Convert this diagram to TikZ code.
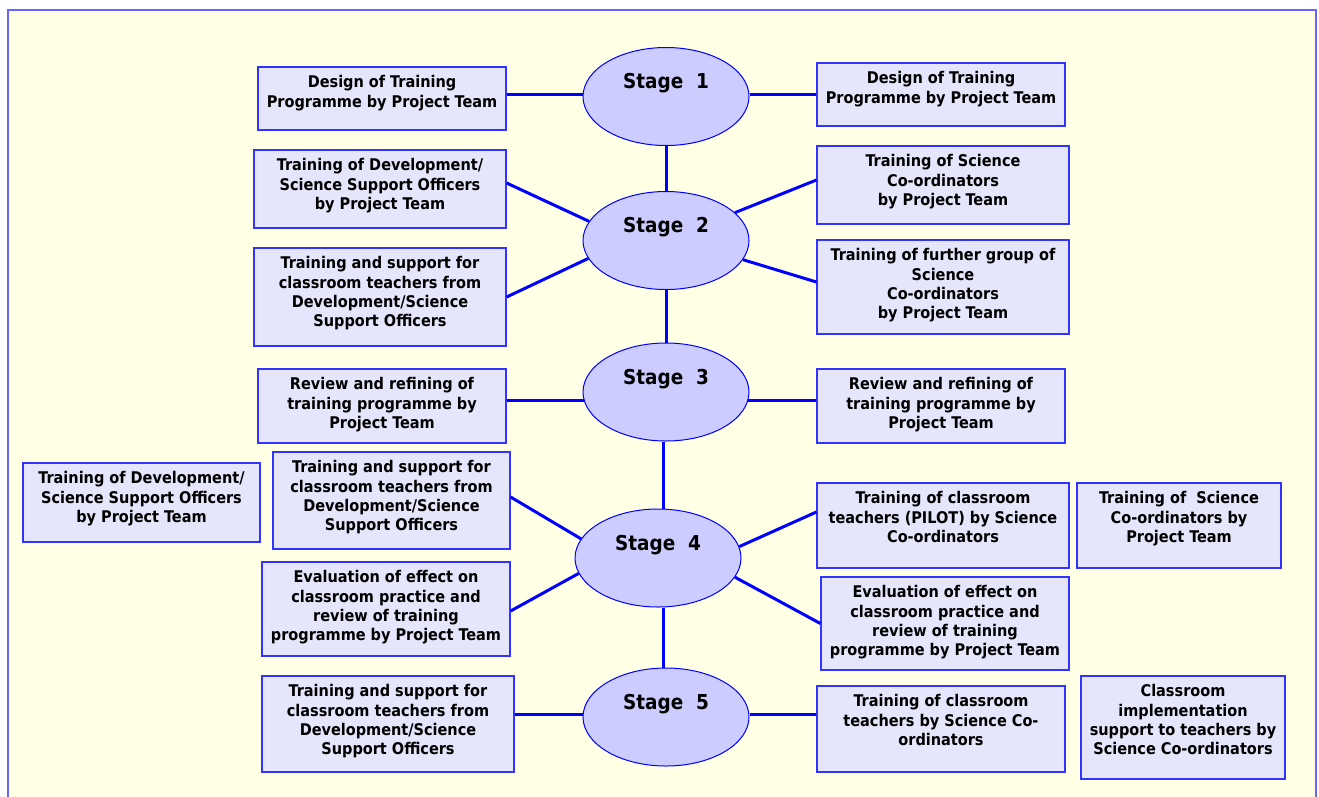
\documentclass[tikz,border=0pt]{standalone}
\usepackage{fontspec}
\setmainfont{DejaVu Sans Condensed}
\usepackage{tikz}
\usetikzlibrary{shapes.geometric}
\definecolor{plYellow}{HTML}{FFFFE6}
\definecolor{plFrame}{HTML}{6666FF}
\definecolor{plBlue}{HTML}{0000FF}
\definecolor{plEdge}{HTML}{3333FF}
\definecolor{plBox}{HTML}{E5E5FB}
\definecolor{plOval}{HTML}{CCCCFF}

\begin{document}
\begin{tikzpicture}[x=1pt,y=-1pt,
  stage/.style={ellipse,draw=plBlue,fill=plOval,line width=1pt,
    minimum width=166pt,minimum height=98pt,inner sep=0pt},
  stxt/.style={inner sep=0pt,yshift=13pt,font=\fontsize{20.5}{24}\selectfont\bfseries},
  box/.style 2 args={draw=plEdge,fill=plBox,line width=1.2pt,
    minimum width=#1pt,minimum height=#2pt,inner sep=0pt},
  btxt/.style={anchor=north,align=center,inner sep=0pt,yshift=-9pt,
    font=\fontsize{16.1}{19.3}\selectfont\bfseries},
  link/.style={plBlue,line width=3pt}]
\useasboundingbox (0,0) rectangle (1319,796);
\draw[plFrame,fill=plYellow,line width=1.5pt] (8,10) rectangle (1316,812);
% the five stages down the middle
\node[stage,label={[stxt]center:Stage~~1}] (s1) at (666,96.5) {};
\node[stage,label={[stxt]center:Stage~~2}] (s2) at (666,240.5) {};
\node[stage,label={[stxt]center:Stage~~3}] (s3) at (666,392) {};
\node[stage,label={[stxt]center:Stage~~4}] (s4) at (658,558) {};
\node[stage,label={[stxt]center:Stage~~5}] (s5) at (666,717) {};
% stage 1
\node[box={248}{63},label={[btxt]north:{Design of Training\\Programme by Project Team}}] (l1) at (382,98.5) {};
\node[box={248}{63},label={[btxt]north:{Design of Training\\Programme by Project Team}}] (r1) at (941,94.5) {};
% stage 2
\node[box={252}{78},label={[btxt]north:{Training of Development/\\Science Support Officers\\by Project Team}}] (l2a) at (380,189) {};
\node[box={252}{98},label={[btxt]north:{Training and support for\\classroom teachers from\\Development/Science\\Support Officers}}] (l2b) at (380,297) {};
\node[box={252}{78},label={[btxt]north:{Training of Science\\Co-ordinators\\by Project Team}}] (r2a) at (943,185) {};
\node[box={252}{94},label={[btxt]north:{Training of further group of\\Science\\Co-ordinators\\by Project Team}}] (r2b) at (943,287) {};
% stage 3
\node[box={248}{74},label={[btxt]north:{Review and refining of\\training programme by\\Project Team}}] (l3) at (382,406) {};
\node[box={248}{74},label={[btxt]north:{Review and refining of\\training programme by\\Project Team}}] (r3) at (941,406) {};
% stage 4
\node[box={237}{79},label={[btxt]north:{Training of Development/\\Science Support Officers\\by Project Team}}] (fl4) at (141.5,502.5) {};
\node[box={237}{97},label={[btxt]north:{Training and support for\\classroom teachers from\\Development/Science\\Support Officers}}] (l4a) at (391.5,500.5) {};
\node[box={248}{94},label={[btxt]north:{Evaluation of effect on\\classroom practice and\\review of training\\programme by Project Team}}] (l4b) at (386,609) {};
\node[box={252}{85},label={[btxt]north:{Training of classroom\\teachers (PILOT) by Science\\Co-ordinators}}] (r4a) at (943,525.5) {};
\node[box={248}{93},label={[btxt]north:{Evaluation of effect on\\classroom practice and\\review of training\\programme by Project Team}}] (r4b) at (945,623.5) {};
\node[box={204}{85},label={[btxt]north:{Training of~ Science\\Co-ordinators by\\Project Team}}] (fr4) at (1179,525.5) {};
% stage 5
\node[box={252}{96},label={[btxt]north:{Training and support for\\classroom teachers from\\Development/Science\\Support Officers}}] (l5) at (388,724) {};
\node[box={248}{86},label={[btxt]north:{Training of classroom\\teachers by Science Co-\\ordinators}}] (r5) at (941,729) {};
\node[box={204}{103},label={[btxt]north:{Classroom\\implementation\\support to teachers by\\Science Co-ordinators}}] (fr5) at (1183,727.5) {};
% connectors
\draw[link] ([yshift=2.5pt]s1.west) -- ([yshift=2.5pt]s1.west -| l1.east);
\draw[link] ([yshift=2.5pt]s1.east) -- ([yshift=2.5pt]s1.east -| r1.west);
\draw[link] (s1.south) -- (s2.north);
\draw[link] ([yshift=6pt]l2a.east) -- (s2.166);
\draw[link] (l2b.east) -- (s2.193);
\draw[link] ([yshift=5pt]r2a.west) -- (s2.22);
\draw[link] ([yshift=5pt]r2b.west) -- (s2.346);
\draw[link] (s2.south) -- (s3.north);
\draw[link] (s3.186) -- (s3.186 -| l3.east);
\draw[link] (s3.354) -- (s3.354 -| r3.west);
\draw[link] ([xshift=5pt]s4.north) -- ([xshift=5pt]s4.north |- s3.south);
\draw[link] ([yshift=3.5pt]l4a.east) -- (s4.166);
\draw[link] ([yshift=-2pt]l4b.east) -- (s4.191);
\draw[link] ([yshift=13.5pt]r4a.west) -- (s4.8);
\draw[link] (r4b.west) -- (s4.346);
\draw[link] ([xshift=5pt]s4.south) -- ([xshift=5pt]s4.south |- s5.north);
\draw[link] ([yshift=3pt]s5.west) -- ([yshift=3pt]s5.west -| l5.east);
\draw[link] ([yshift=3pt]s5.east) -- ([yshift=3pt]s5.east -| r5.west);
\end{tikzpicture}
\end{document}
